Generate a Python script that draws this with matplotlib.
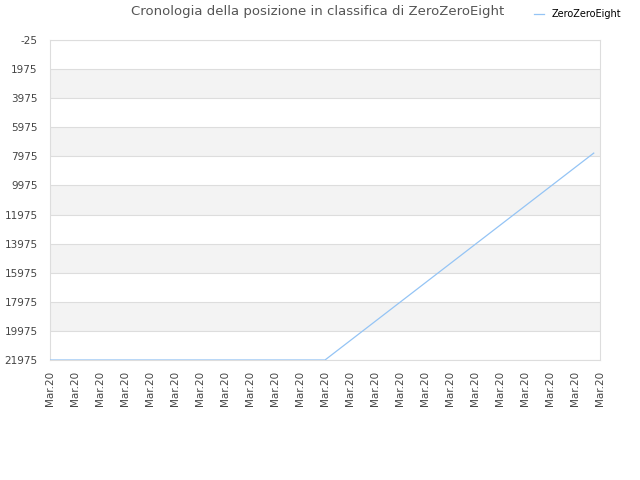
import matplotlib
matplotlib.use('Agg')
import matplotlib.pyplot as plt

plt.rcParams['axes.unicode_minus'] = False

# data (x in tick units, y = rank)
x_pos = [0, 1, 2, 3, 4, 5, 6, 7, 8, 9, 10, 11, 21.75]
rank = [21975, 21975, 21975, 21975, 21975, 21975, 21975, 21975, 21975, 21975, 21975, 21975, 7750]
tick_labels = ['Mar.20'] * 23
y_ticks = [-25, 1975, 3975, 5975, 7975, 9975, 11975, 13975, 15975, 17975, 19975, 21975]

fig = plt.figure(figsize=(6.4, 4.8), dpi=100)
ax = fig.add_axes([50 / 640, 1 - 360 / 480, 550 / 640, 320 / 480])

# alternating bands
for i in range(len(y_ticks) - 1):
    if i % 2 == 1:
        ax.axhspan(y_ticks[i], y_ticks[i + 1], color='#f3f3f3', zorder=0, lw=0)

ax.plot(x_pos, rank, color='#94c4f5', lw=0.9, label='ZeroZeroEight', zorder=3)

ax.set_xlim(0, len(tick_labels) - 1)
ax.set_ylim(y_ticks[-1], y_ticks[0])
ax.set_yticks(y_ticks)
ax.set_xticks(range(len(tick_labels)))
ax.set_xticklabels(tick_labels, rotation=90)
ax.tick_params(axis='y', length=0, labelsize=7.5, labelcolor='#444444', pad=9)
ax.tick_params(axis='x', length=0, labelsize=7.5, labelcolor='#444444', pad=8)
ax.grid(axis='y', color='#dddddd', lw=0.8, zorder=1)
for s in ax.spines.values():
    s.set_color('#dddddd')

fig.text(318 / 640, 1 - 12 / 480, 'Cronologia della posizione in classifica di ZeroZeroEight',
         ha='center', va='center', fontsize=9.5, color='#555555')
leg = fig.legend(loc='center right', bbox_to_anchor=(625 / 640, 1 - 14 / 480), frameon=False,
                 fontsize=7, handlelength=1.0, borderaxespad=0.0)

fig.savefig('out.png', dpi=100)
